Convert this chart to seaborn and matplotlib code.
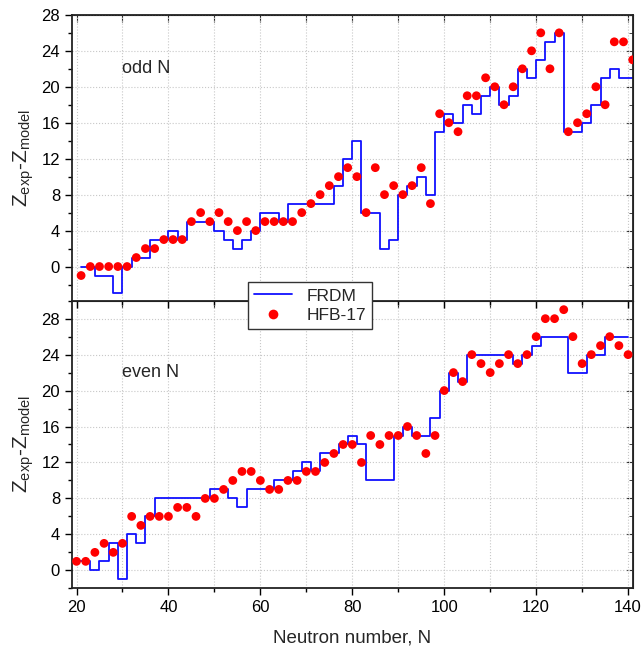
import numpy as np
import pandas as pd
import seaborn as sns
import matplotlib.pyplot as plt
from matplotlib.ticker import MultipleLocator
from matplotlib.lines import Line2D

# Daten
N_ODD = list(range(21, 142, 2))
HFB_ODD = [-1, 0, 0, 0, 0, 0, 1, 2, 2, 3, 3, 3, 5, 6, 5, 6, 5, 4, 5, 4, 5, 5, 5, 5,
           6, 7, 8, 9, 10, 11, 10, 6, 11, 8, 9, 8, 9, 11, 7, 17, 16, 15, 19, 19, 21, 20,
           18, 20, 22, 24, 26, 22, 26, 15, 16, 17, 20, 18, 25, 25, 23]
FRDM_ODD = [0, 0, -1, -1, -3, 0, 1, 1, 3, 3, 4, 3, 5, 5, 5, 4, 3, 2, 3, 4, 6, 6, 5, 7,
            7, 7, 7, 7, 9, 12, 14, 6, 6, 2, 3, 8, 9, 10, 8, 15, 17, 16, 18, 17, 19, 20,
            18, 19, 22, 21, 23, 25, 26, 15, 15, 16, 18, 21, 22, 21, 21]

N_EVEN = list(range(20, 141, 2))
HFB_EVEN = [1, 1, 2, 3, 2, 3, 6, 5, 6, 6, 6, 7, 7, 6, 8, 8, 9, 10, 11, 11, 10, 9, 9, 10,
            10, 11, 11, 12, 13, 14, 14, 12, 15, 14, 15, 15, 16, 15, 13, 15, 20, 22, 21, 24,
            23, 22, 23, 24, 23, 24, 26, 28, 28, 29, 26, 23, 24, 25, 26, 25, 24]
FRDM_EVEN = [1, 1, 0, 1, 3, -1, 4, 3, 6, 8, 8, 8, 8, 8, 8, 9, 9, 8, 7, 9, 9, 9, 10, 10,
             11, 12, 11, 13, 13, 14, 15, 14, 10, 10, 10, 15, 16, 15, 15, 17, 20, 22, 21, 24,
             24, 24, 24, 24, 23, 24, 25, 26, 26, 26, 22, 22, 24, 24, 26, 26, 26]

PANEL_TEXT = ['odd N', 'even N']
YLABEL = 'Z$_\\mathregular{exp}$-Z$_\\mathregular{model}$'

sns.set_style("ticks")
plt.rcParams['font.family'] = ['Liberation Sans', 'DejaVu Sans']
plt.rcParams['mathtext.fontset'] = 'custom'
plt.rcParams['mathtext.rm'] = 'Liberation Sans'


def style_axis(ax, ylim):
    ax.set_xlim(19, 141)
    ax.set_ylim(*ylim)
    ax.xaxis.set_major_locator(MultipleLocator(20))
    ax.xaxis.set_minor_locator(MultipleLocator(10))
    ax.yaxis.set_major_locator(MultipleLocator(4))
    ax.yaxis.set_minor_locator(MultipleLocator(2))
    ax.xaxis.grid(True, which='both', color='#c8c8c8', linestyle=':', linewidth=0.8)
    ax.yaxis.grid(True, which='major', color='#c8c8c8', linestyle=':', linewidth=0.8)
    ax.set_axisbelow(True)
    ax.tick_params(which='both', direction='out', labelsize=12, width=1, colors='black')
    ax.tick_params(which='major', length=5)
    ax.tick_params(which='minor', length=3)
    for sp in ax.spines.values():
        sp.set_visible(True)
        sp.set_linewidth(1.3)
        sp.set_color('#222222')
    # rechte / obere Achse mit Ticks nach innen
    sy = ax.secondary_yaxis('right')
    sy.yaxis.set_major_locator(MultipleLocator(4))
    sy.yaxis.set_minor_locator(MultipleLocator(2))
    sy.tick_params(which='both', direction='in', labelright=False)
    sy.tick_params(which='major', length=5)
    sy.tick_params(which='minor', length=3)
    sx = ax.secondary_xaxis('top')
    sx.xaxis.set_major_locator(MultipleLocator(10))
    sx.tick_params(which='both', direction='in', labeltop=False, length=5)
    ax.set_ylabel(YLABEL, fontsize=15)


fig = plt.figure(figsize=(6.42, 6.46), dpi=100)
left, right = 0.112, 0.9855
bottom, top = 0.0893, 0.977
h_total = top - bottom
h_top = h_total * 31.8 / 63.8
h_bot = h_total - h_top
ax_bot = fig.add_axes([left, bottom, right - left, h_bot])
ax_top = fig.add_axes([left, bottom + h_bot, right - left, h_top], sharex=ax_bot)

df_odd = pd.DataFrame({'N': N_ODD, 'HFB': HFB_ODD, 'FRDM': FRDM_ODD})
df_even = pd.DataFrame({'N': N_EVEN, 'HFB': HFB_EVEN, 'FRDM': FRDM_EVEN})

for ax, df, txt, ylim in [(ax_top, df_odd, PANEL_TEXT[0], (-3.8, 28)),
                          (ax_bot, df_even, PANEL_TEXT[1], (-2, 30))]:
    sns.lineplot(data=df, x='N', y='FRDM', ax=ax, color='#1010ff', linewidth=1.3,
                 drawstyle='steps-mid', zorder=2)
    sns.scatterplot(data=df, x='N', y='HFB', ax=ax, color='#ff0000', s=40,
                    edgecolor='none', zorder=3)
    style_axis(ax, ylim)
    ax.text(30, 22, txt, fontsize=13, va='center', ha='left')

ax_top.tick_params(axis='x', labelbottom=False)
ax_top.set_xlabel('')
ax_bot.set_xlabel('Neutron number, N', fontsize=13.5, labelpad=10)
ax_top.yaxis.set_label_coords(-0.064, 0.5)
ax_bot.yaxis.set_label_coords(-0.064, 0.5)

handles = [Line2D([], [], color='#1010ff', linewidth=1.3),
           Line2D([], [], color='#ff0000', marker='o', linestyle='none', markersize=7,
                  markeredgecolor='none')]
leg = fig.legend(handles, ['FRDM', 'HFB-17'], loc='center',
                 bbox_to_anchor=(310 / 642, 1 - 305.7 / 646), fontsize=12.5,
                 frameon=True, fancybox=False, framealpha=1, edgecolor='#333333',
                 handlelength=2.2, borderpad=0.35, labelspacing=0.25)
leg.get_frame().set_linewidth(1.0)

fig.savefig('out.png', dpi=100)
